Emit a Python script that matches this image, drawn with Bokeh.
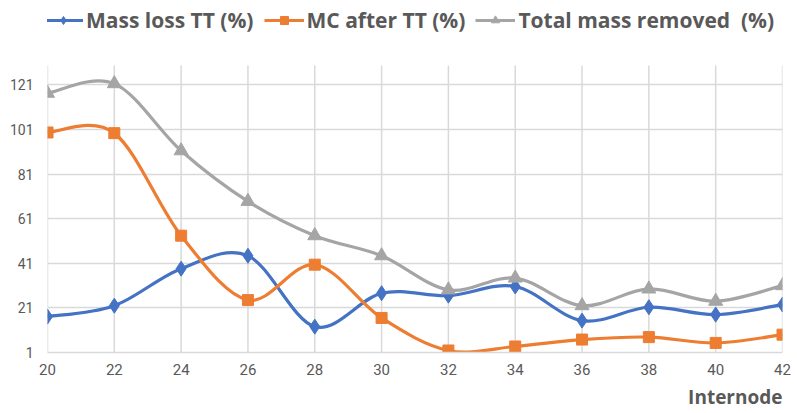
from bokeh.plotting import figure
from bokeh.models import (Range1d, FixedTicker, Legend, LegendItem, Title,
                          ColumnDataSource)
from bokeh.embed import file_html
from bokeh.resources import INLINE

internode = [20, 22, 24, 26, 28, 30, 32, 34, 36, 38, 40, 42]
mass_loss = [17.1, 22.0, 38.6, 44.4, 12.6, 27.6, 26.5, 30.6, 15.3, 21.3, 18.0, 22.5]
mc_after = [99.7, 99.4, 53.4, 24.5, 40.4, 16.5, 1.9, 3.7, 6.8, 7.9, 5.3, 9.0]
total_removed = [117.3, 121.6, 91.5, 68.8, 53.4, 44.4, 29.1, 34.4, 22.0, 29.5, 24.0, 31.0]
y_ticks = [1, 21, 41, 61, 81, 101, 121]
y_axis_min, y_axis_max = 1, 129.7

series = [
    ("Mass loss TT (%)", mass_loss, "#4472C4", "diamond", 15),
    ("MC after TT (%)", mc_after, "#ED7D31", "square", 11),
    ("Total mass removed \u00a0(%)", total_removed, "#A5A5A5", "triangle", 14),
]

LABEL_COLOR = "#595959"
GRID_COLOR = "#D9D9D9"
BOLD_FONT = "'Open Sans', Roboto, sans-serif"

# frame extends to the top of the canvas so the legend can sit inside it
p = figure(width=797, height=413, output_backend="svg", toolbar_location=None,
           x_range=Range1d(20, 42), y_range=Range1d(y_axis_min, 158.9),
           min_border_left=47, min_border_right=15, min_border_top=0,
           min_border_bottom=61)
p.outline_line_color = None
p.background_fill_color = "white"

p.xaxis.ticker = FixedTicker(ticks=internode)
p.yaxis.ticker = FixedTicker(ticks=y_ticks)
for ax in (p.xaxis, p.yaxis):
    ax.major_tick_line_color = None
    ax.minor_tick_line_color = None
    ax.major_tick_out = 0
    ax.major_tick_in = 0
    ax.minor_tick_out = 0
    ax.minor_tick_in = 0
    ax.major_label_text_color = LABEL_COLOR
    ax.major_label_text_font = "Roboto"
ax = p.xaxis[0]
ax.axis_line_color = GRID_COLOR
ax.axis_line_width = 1.5
ax.major_label_text_font_size = "15px"
ax.major_label_standoff = 11
p.yaxis.axis_line_color = None
p.yaxis.major_label_text_font_size = "14px"
p.yaxis.major_label_standoff = 14

p.xgrid.visible = False
p.ygrid.ticker = FixedTicker(ticks=y_ticks)
p.ygrid.grid_line_color = GRID_COLOR
p.ygrid.grid_line_width = 1.5

# vertical grid lines limited to the plot area
p.segment(x0=internode, y0=[y_axis_min] * len(internode), x1=internode,
          y1=[y_axis_max] * len(internode), line_color=GRID_COLOR, line_width=1.5)

items = []
t = 1.0 / 6.0
for label, vals, color, marker, size in series:
    n = len(internode)
    x0, y0, x1, y1, cx0, cy0, cx1, cy1 = [], [], [], [], [], [], [], []
    for i in range(n - 1):
        xa, ya = internode[i], vals[i]
        xb, yb = internode[i + 1], vals[i + 1]
        xp, yp = (internode[i - 1], vals[i - 1]) if i > 0 else (xa, ya)
        xn, yn = (internode[i + 2], vals[i + 2]) if i + 2 < n else (xb, yb)
        x0.append(xa); y0.append(ya); x1.append(xb); y1.append(yb)
        cx0.append(xa + (xb - xp) * t); cy0.append(ya + (yb - yp) * t)
        cx1.append(xb - (xn - xa) * t); cy1.append(yb - (yn - ya) * t)
    src = ColumnDataSource(dict(x0=x0, y0=y0, x1=x1, y1=y1,
                                cx0=cx0, cy0=cy0, cx1=cx1, cy1=cy1))
    p.bezier(x0="x0", y0="y0", x1="x1", y1="y1", cx0="cx0", cy0="cy0",
             cx1="cx1", cy1="cy1", source=src, line_color=color, line_width=3.2)
    leg_line = p.line(x=[internode[0], internode[0]], y=[vals[0], vals[0]],
                      line_color=color, line_width=3.2)
    sc = p.scatter(x=internode, y=vals, marker=marker, size=size,
                   fill_color=color, line_color=color)
    items.append(LegendItem(label=label, renderers=[leg_line, sc]))

legend = Legend(items=items, orientation="horizontal", location=(-4, 318),
                label_text_font=BOLD_FONT,
                label_text_font_style="bold", label_text_font_size="21px",
                label_text_color=LABEL_COLOR, glyph_width=40, glyph_height=20,
                label_height=20, label_standoff=3, spacing=10, padding=0, margin=0,
                background_fill_alpha=0, border_line_color=None)
p.add_layout(legend)

p.add_layout(Title(text="Internode", align="right", text_font=BOLD_FONT,
                   text_font_style="bold", text_font_size="19px",
                   text_color=LABEL_COLOR, standoff=8, offset=0,
                   vertical_align="bottom"), "below")

open("out.html", "w").write(file_html(p, INLINE))
